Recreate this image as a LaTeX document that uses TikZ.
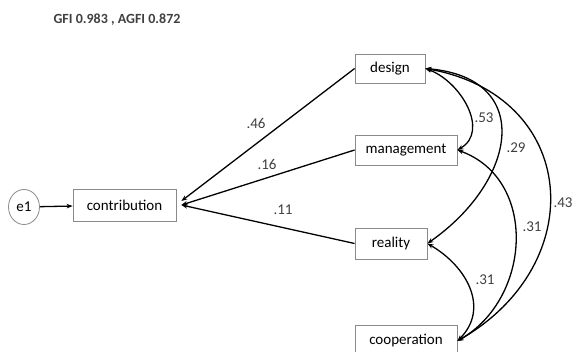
\documentclass[tikz,border=0pt]{standalone}
\usepackage{fontspec}
\setmainfont{Carlito}
\usepackage{xcolor}
\usetikzlibrary{positioning, arrows.meta, calc, shapes.geometric}
\definecolor{boxgray}{HTML}{8A8A8A}

\begin{document}
\begin{tikzpicture}[x=1pt, y=1pt,
    var/.style={draw=boxgray, line width=0.8pt, minimum width=71pt, minimum height=30pt,
                inner sep=2pt, font=\fontsize{15}{17}\selectfont},
    err/.style={ellipse, draw=boxgray, line width=0.8pt, minimum width=31pt, minimum height=35pt,
                inner sep=0pt, font=\fontsize{15}{17}\selectfont},
    path/.style={line width=1.3pt, -{Stealth[length=6pt, width=4.5pt]}},
    cov/.style={line width=1.3pt, {Stealth[length=6pt, width=4.5pt]}-{Stealth[length=6pt, width=4.5pt]}},
    est/.style={font=\fontsize{15}{17}\selectfont, text=black!75}]
    \clip (0,0) rectangle (572,-351);

    \node[font=\fontsize{14}{16}\selectfont\bfseries, text=black!75] (fit) at (117,-20) {GFI 0.983 , AGFI 0.872};

    % measured variables
    \node[err] (e1) at (24,-207) {e1};
    \node[var, minimum width=103pt, minimum height=32pt] (contrib) at (124.5,-205) {contribution};
    \node[var, minimum width=70pt, minimum height=29pt] (design) at (390,-68.5) {design};
    \node[var, minimum width=102pt] (mgmt) at (406,-150) {management};
    \node[var, minimum width=72pt, minimum height=31pt] (reality) at (391,-243.5) {reality};
    \node[var, minimum width=102pt, minimum height=32pt] (coop) at (406,-341) {cooperation};
    \coordinate (hub) at ([xshift=5pt]contrib.east);

    % paths
    \draw[path] (e1) -- (contrib);
    \draw[path] (design.west) -- ([yshift=4pt]hub);
    \draw[path] (mgmt.west) -- (hub);
    \draw[path] (reality.west) -- (hub);
    \node[est] (p1) at (256,-123) {.46};
    \node[est] (p2) at (267,-164) {.16};
    \node[est] (p3) at (283,-210) {.11};

    % covariances
    \draw[cov] (design.east) to[out=-20, in=30, looseness=1.1] (mgmt.east);
    \draw[cov] (design.east) to[out=-5, in=35, looseness=1.6] (reality.east);
    \draw[cov] (design.east) to[out=-10, in=30, looseness=1.45] (coop.east);
    \draw[cov] (mgmt.east) to[out=-20, in=30, looseness=1.15] (coop.east);
    \draw[cov] (reality.east) to[out=-30, in=45, looseness=1.15] (coop.east);
    \node[est] (c1) at (484,-118) {.53};
    \node[est] (c2) at (516,-148) {.29};
    \node[est] (c3) at (563,-203) {.43};
    \node[est] (c4) at (532,-227) {.31};
    \node[est] (c5) at (485,-280) {.31};
\end{tikzpicture}
\end{document}
